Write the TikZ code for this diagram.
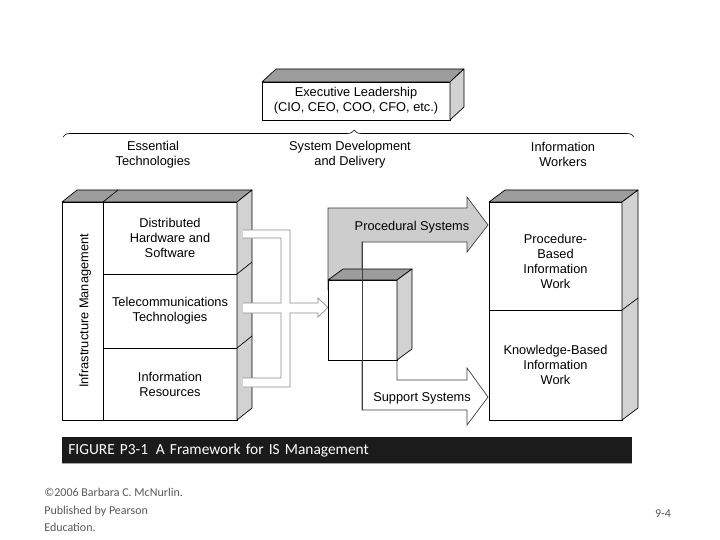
\documentclass[tikz,border=0pt]{standalone}
\usepackage{fontspec}
\setmainfont{Liberation Sans}
\newfontfamily\slidefont{Carlito}
\usetikzlibrary{positioning,calc,decorations.pathreplacing}
\definecolor{topgray}{HTML}{9C9C9C}
\definecolor{sidegray}{HTML}{D2D2D2}
\definecolor{bandgray}{HTML}{CDCDCD}
\definecolor{bargray}{HTML}{1B1B1B}
\tikzset{main node/.style={draw, rectangle, fill=white, inner sep=0pt, outer sep=0pt, align=center, font=\fontsize{12.8}{15}\selectfont},
  head node/.style={align=center, inner sep=0pt, font=\fontsize{12.8}{15}\selectfont},
  top face/.style={draw, fill=topgray, line join=round},
  side face/.style={draw, fill=sidegray, line join=round},
  band/.style={draw=black!75, line join=miter},
  hollow band/.style={draw=black!45, line join=miter},
}
% faces of a box: left node, top right node, bottom right node, depth
\newcommand{\boxfaces}[5]{%
  \path[top face] (#1.north west) -- ++(#4,#5) -- ($(#2.north east)+(#4,#5)$) -- (#2.north east) -- cycle;
  \path[side face] (#2.north east) -- ++(#4,#5) -- ($(#3.south east)+(#4,#5)$) -- (#3.south east) -- cycle;
}

\begin{document}
\begin{tikzpicture}[x=1pt, y=-1pt, line width=0.7pt]
  \useasboundingbox[fill=white] (0,0) rectangle (720,540);
  % Header
  \draw[decorate, decoration={brace, amplitude=7pt, aspect=0.51}, line width=0.6pt] (63,137) -- (634,137);
  \node[head node] (h1) at (153,154.5) {Essential\\Technologies};
  \node[head node] (h2) at (350,154.5) {System Development\\and Delivery};
  \node[head node] (h3) at (563,154.5) {Information\\Workers};
  % Nodes
  \node[main node, minimum width=188, minimum height=38] (1) at (356,101) {Executive Leadership\\(CIO, CEO, COO, CFO, etc.)};
  \boxfaces{1}{1}{1}{14}{-13}
  \node[main node, minimum width=41, minimum height=218] (2) at (82.5,311) {\kern5pt\rotatebox{90}{Infrastructure Management}};
  \node[main node, minimum width=134, minimum height=72] [right=0pt of 2.north east, anchor=north west] (3) {Distributed\\Hardware and\\Software};
  \node[main node, minimum width=134, minimum height=74] [below=0pt of 3] (4) {Telecommunications\\Technologies};
  \node[main node, minimum width=134, minimum height=72] [below=0pt of 4] (5) {Information\\Resources};
  \boxfaces{2}{3}{5}{15}{-12}
  \draw (2.north east) -- ++(15,-12);
  \foreach \n in {3,4} \draw (\n.south east) -- ++(15,-12);
  % Paths
  \fill[white] (243,230) -- (290,230) -- (290,303) -- (318,303) -- (318,298) -- (328,307.5) -- (318,317) -- (318,313) -- (290,313) -- (290,387) -- (243,387) -- (243,378) -- (281,378) -- (281,313) -- (243,313) -- (243,303) -- (281,303) -- (281,238) -- (243,238) -- cycle;
  \draw[hollow band] (243,230) -- (290,230) -- (290,303) -- (318,303) -- (318,298) -- (328,307.5) -- (318,317) -- (318,313) -- (290,313) -- (290,387) -- (243,387)
    (243,378) -- (281,378) -- (281,313) -- (243,313)
    (243,303) -- (281,303) -- (281,238) -- (243,238);
  \filldraw[band, fill=white] (362,300) -- (362,410) -- (467,410) -- (467,425) -- (488,397) -- (467,368) -- (467,380) -- (397,380) -- (397,300);
  \filldraw[band, fill=bandgray] (328,290) -- (328,208) -- (467,208) -- (467,197) -- (488,225) -- (467,252) -- (467,242) -- (362,242) -- (362,290);
  \node[main node, minimum width=69, minimum height=80] (6) at (362.5,320) {};
  \boxfaces{6}{6}{6}{15}{-11}
  \draw[band] (362,242) -- (362,410);
  \node[head node] (a1) at (412,227) {Procedural Systems};
  \node[head node] (a2) at (422,398) {Support Systems};
  \node[main node, minimum width=133, minimum height=108] (7) at (555.5,256) {\raisebox{-6.5pt}[\height][\depth]{\begin{tabular}{@{}c@{}}Procedure-\\Based\\Information\\Work\end{tabular}}};
  \node[main node, minimum width=133, minimum height=110] [below=0pt of 7] (8) {Knowledge-Based\\Information\\Work};
  \boxfaces{7}{7}{8}{16}{-12}
  \draw (7.south east) -- ++(16,-12);
  % Caption
  \draw[black!35, line width=1pt] (62,463.5) -- (632,463.5);
  \node[fill=bargray, text=white, anchor=north west, minimum height=26, text width=558, inner xsep=6, align=left, font=\slidefont\fontsize{15.4}{18}\selectfont] (c) at (62,437) {FIGURE P3-1\enspace A Framework for IS Management};
  \node[anchor=north west, align=left, inner sep=0pt, text=black!65, font=\slidefont\fontsize{12}{17.5}\selectfont] (f1) at (44,488) {©2006 Barbara C. McNurlin.\\Published by Pearson\\Education.};
  \node[text=black!65, font=\slidefont\fontsize{12}{17.5}\selectfont] (f2) at (663,514) {9-4};
\end{tikzpicture}
\end{document}
